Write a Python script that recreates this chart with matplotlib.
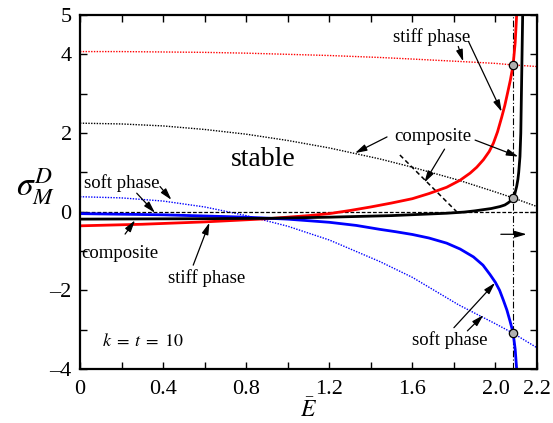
import matplotlib
matplotlib.use("Agg")
import matplotlib.pyplot as plt

plt.rcParams["font.family"] = ["Liberation Serif", "DejaVu Serif"]
plt.rcParams["mathtext.fontset"] = "stix"

# ---- data ------------------------------------------------------------------
# stability bounds (dotted)
E_bound = [0.0, 0.2, 0.4, 0.6, 0.8, 1.0, 1.2, 1.444, 1.6, 1.823, 2.0, 2.085, 2.2]
stiff_bound = [4.07, 4.07, 4.06, 4.05, 4.03, 4.00, 3.97, 3.92, 3.88, 3.82, 3.77, 3.73, 3.69]
comp_bound = [2.25, 2.23, 2.18, 2.09, 1.97, 1.81, 1.62, 1.34, 1.13, 0.80, 0.50, 0.35, 0.13]
soft_bound = [0.38, 0.35, 0.27, 0.12, -0.10, -0.37, -0.72, -1.27, -1.67, -2.37, -2.85, -3.09, -3.46]

# stiff phase (red solid)
E_stiff = [0.0, 0.3, 0.6, 0.9, 1.0, 1.1, 1.2, 1.3, 1.4, 1.5, 1.6, 1.68, 1.765, 1.83,
           1.878, 1.91, 1.942, 1.97, 1.99, 2.01, 2.03, 2.045, 2.058, 2.072, 2.085,
           2.095, 2.102]
s_stiff = [-0.36, -0.32, -0.26, -0.18, -0.14, -0.10, -0.05, 0.03, 0.12, 0.22, 0.33,
           0.46, 0.62, 0.80, 0.98, 1.13, 1.32, 1.53, 1.74, 2.03, 2.40, 2.70, 3.01,
           3.35, 3.73, 4.30, 5.0]

# composite (black solid)
E_comp = [0.0, 0.5, 0.9, 1.2, 1.5, 1.765, 1.85, 1.9, 1.94, 1.98, 2.022, 2.045, 2.06,
          2.072, 2.083, 2.093, 2.102, 2.108, 2.112, 2.118, 2.122, 2.125, 2.128, 2.131]
s_comp = [-0.19, -0.18, -0.17, -0.14, -0.10, -0.04, -0.01, 0.02, 0.05, 0.08, 0.13,
          0.17, 0.22, 0.27, 0.34, 0.45, 0.64, 0.82, 1.0, 1.40, 2.0, 3.0, 4.0, 5.0]

# soft phase (blue solid)
E_soft = [0.0, 0.4, 0.8, 1.0, 1.2, 1.33, 1.444, 1.52, 1.6, 1.68, 1.765, 1.83, 1.894,
          1.94, 1.974, 2.0, 2.02, 2.038, 2.055, 2.07, 2.085, 2.095, 2.102]
s_soft = [-0.05, -0.08, -0.14, -0.19, -0.27, -0.35, -0.45, -0.51, -0.58, -0.67, -0.80,
          -0.95, -1.15, -1.36, -1.60, -1.80, -2.00, -2.25, -2.50, -2.78, -3.08, -3.50,
          -4.0]

# dashed composite estimate
E_est = [1.54, 1.813]
s_est = [1.44, 0.0]

E_crit = 2.085
crit_vals = [3.73, 0.35, -3.08]

xticks = [0.0, 0.2, 0.4, 0.6, 0.8, 1.0, 1.2, 1.4, 1.6, 1.8, 2.0, 2.2]
xlabels = ["0", "", "0.4", "", "0.8", "", "1.2", "", "1.6", "", "2.0", "2.2"]
yticks = [-4, -3, -2, -1, 0, 1, 2, 3, 4, 5]
ylabels = ["\u20134", "", "\u20132", "", "0", "", "2", "", "4", "5"]

# ---- figure -----------------------------------------------------------------
fig = plt.figure(figsize=(5.53, 4.23), dpi=100)
ax = fig.add_axes([80 / 553, 54 / 423, 457 / 553, 354 / 423])

ax.plot(E_bound, stiff_bound, color="red", ls=(0, (1, 1)), lw=1.0)
ax.plot(E_bound, comp_bound, color="black", ls=(0, (1, 1)), lw=1.0)
ax.plot(E_bound, soft_bound, color="blue", ls=(0, (1, 1)), lw=1.0)

ax.axhline(0, color="black", ls=(0, (3, 1.5)), lw=0.9)
ax.plot(E_est, s_est, color="black", ls=(0, (3, 2)), lw=1.1)
ax.axvline(E_crit, color="black", ls=(0, (6, 2, 1, 2)), lw=0.8)

ax.plot(E_stiff, s_stiff, color="red", lw=2.0, solid_joinstyle="round")
ax.plot(E_soft, s_soft, color="blue", lw=2.0, solid_joinstyle="round")
ax.plot(E_comp, s_comp, color="black", lw=2.0, solid_joinstyle="round")

ax.plot([E_crit] * len(crit_vals), crit_vals, "o", ms=6, mfc="#b0b0b0",
        mec="black", mew=0.9, zorder=5)

ax.set_xlim(0, 2.2)
ax.set_ylim(-4, 5)
ax.set_xticks(xticks)
ax.set_xticklabels(xlabels)
ax.set_yticks(yticks)
ax.set_yticklabels(ylabels)
ax.tick_params(direction="in", top=True, right=True, length=5, width=1.0,
               labelsize=16)
ax.tick_params(axis="x", pad=8)
ax.tick_params(axis="y", pad=6)
for sp in ax.spines.values():
    sp.set_linewidth(1.6)

arrow = dict(arrowstyle="-|>,head_length=0.7,head_width=0.2", color="black",
             lw=0.9, shrinkA=0, shrinkB=0)
fs = 13.5


def note(text, xy_text, targets):
    for t, start in targets:
        ax.annotate("", xy=t, xytext=start, arrowprops=arrow)
    ax.text(*xy_text, text, fontsize=fs, ha="center", va="center")


note("stiff phase", (1.693, 4.45),
     [((1.845, 3.82), (1.821, 4.20)), ((2.030, 2.54), (1.870, 4.33))])
note("composite", (1.70, 1.91),
     [((1.324, 1.49), (1.478, 1.90)), ((1.658, 0.74), (1.755, 1.59)),
      ((2.11, 1.40), (1.902, 1.82))])
note("soft phase", (0.20, 0.72),
     [((0.44, 0.30), (0.385, 0.64)), ((0.361, -0.03), (0.273, 0.47))])
note("composite", (0.193, -1.06), [((0.265, -0.22), (0.217, -0.57))])
note("stiff phase", (0.61, -1.69), [((0.623, -0.28), (0.545, -1.36))])
note("soft phase", (1.781, -3.26),
     [((1.998, -1.81), (1.80, -2.95)), ((1.942, -2.63), (1.865, -3.03))])

ax.annotate("", xy=(2.15, -0.575), xytext=(2.026, -0.575), arrowprops=arrow)

ax.text(0.881, 1.32, "stable", fontsize=20, ha="center", va="center")
ax.text(0.303, -3.31, r"$k\;=\;t\;=\;10$", fontsize=13, ha="center", va="center")

ax.text(-0.215, 0.62, r"$\sigma_M^D$", fontsize=24, ha="center", va="center",
        clip_on=False)
ax.text(1.1, -5.05, r"$\bar{E}$", fontsize=17, ha="center", va="center",
        clip_on=False)

fig.savefig("out.png", dpi=100)
